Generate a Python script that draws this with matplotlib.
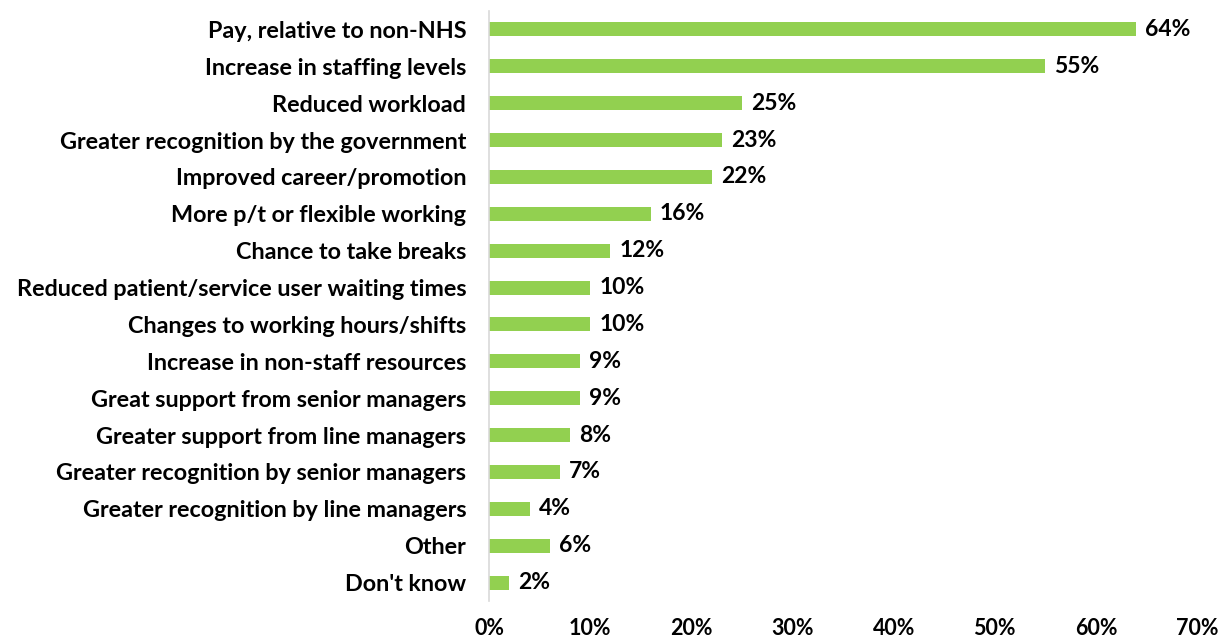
import matplotlib.pyplot as plt

categories = ["Pay, relative to non-NHS", "Increase in staffing levels", "Reduced workload",
              "Greater recognition by the government", "Improved career/promotion",
              "More p/t or flexible working", "Chance to take breaks",
              "Reduced patient/service user waiting times", "Changes to working hours/shifts",
              "Increase in non-staff resources", "Great support from senior managers",
              "Greater support from line managers", "Greater recognition by senior managers",
              "Greater recognition by line managers", "Other", "Don't know"]
values = [64, 55, 25, 23, 22, 16, 12, 10, 10, 9, 9, 8, 7, 4, 6, 2]
xticks = [0, 10, 20, 30, 40, 50, 60, 70]

plt.rcParams['font.family'] = ['Lato', 'DejaVu Sans']
plt.rcParams['font.weight'] = 'bold'

fig = plt.figure(figsize=(12.26, 6.41), dpi=100)
ax = fig.add_axes([0.3989, 0.0624, 0.5775, 0.9204])

ypos = list(range(len(categories)))
ax.barh(ypos, values, height=0.38, color='#92D050')

# value labels next to each bar
for y, v in zip(ypos, values):
    ax.text(v + 0.9, y, f"{v}%", va='center', ha='left', fontsize=16.5, fontweight='bold', color='black')

ax.set_yticks(ypos)
ax.set_yticklabels(categories, fontsize=16.8, fontweight='bold')
ax.set_ylim(len(categories) - 0.5, -0.5)
ax.set_xlim(0, 70)
ax.set_xticks(xticks)
ax.set_xticklabels([f"{t}%" for t in xticks], fontsize=15.5, fontweight='bold')
ax.tick_params(axis='both', length=0)
ax.tick_params(axis='x', pad=12)
ax.tick_params(axis='y', pad=16.5)

for s in ['top', 'right', 'bottom']:
    ax.spines[s].set_visible(False)
ax.spines['left'].set_color('#d9d9d9')
ax.spines['left'].set_linewidth(1.2)

fig.savefig('out.png', dpi=100)
